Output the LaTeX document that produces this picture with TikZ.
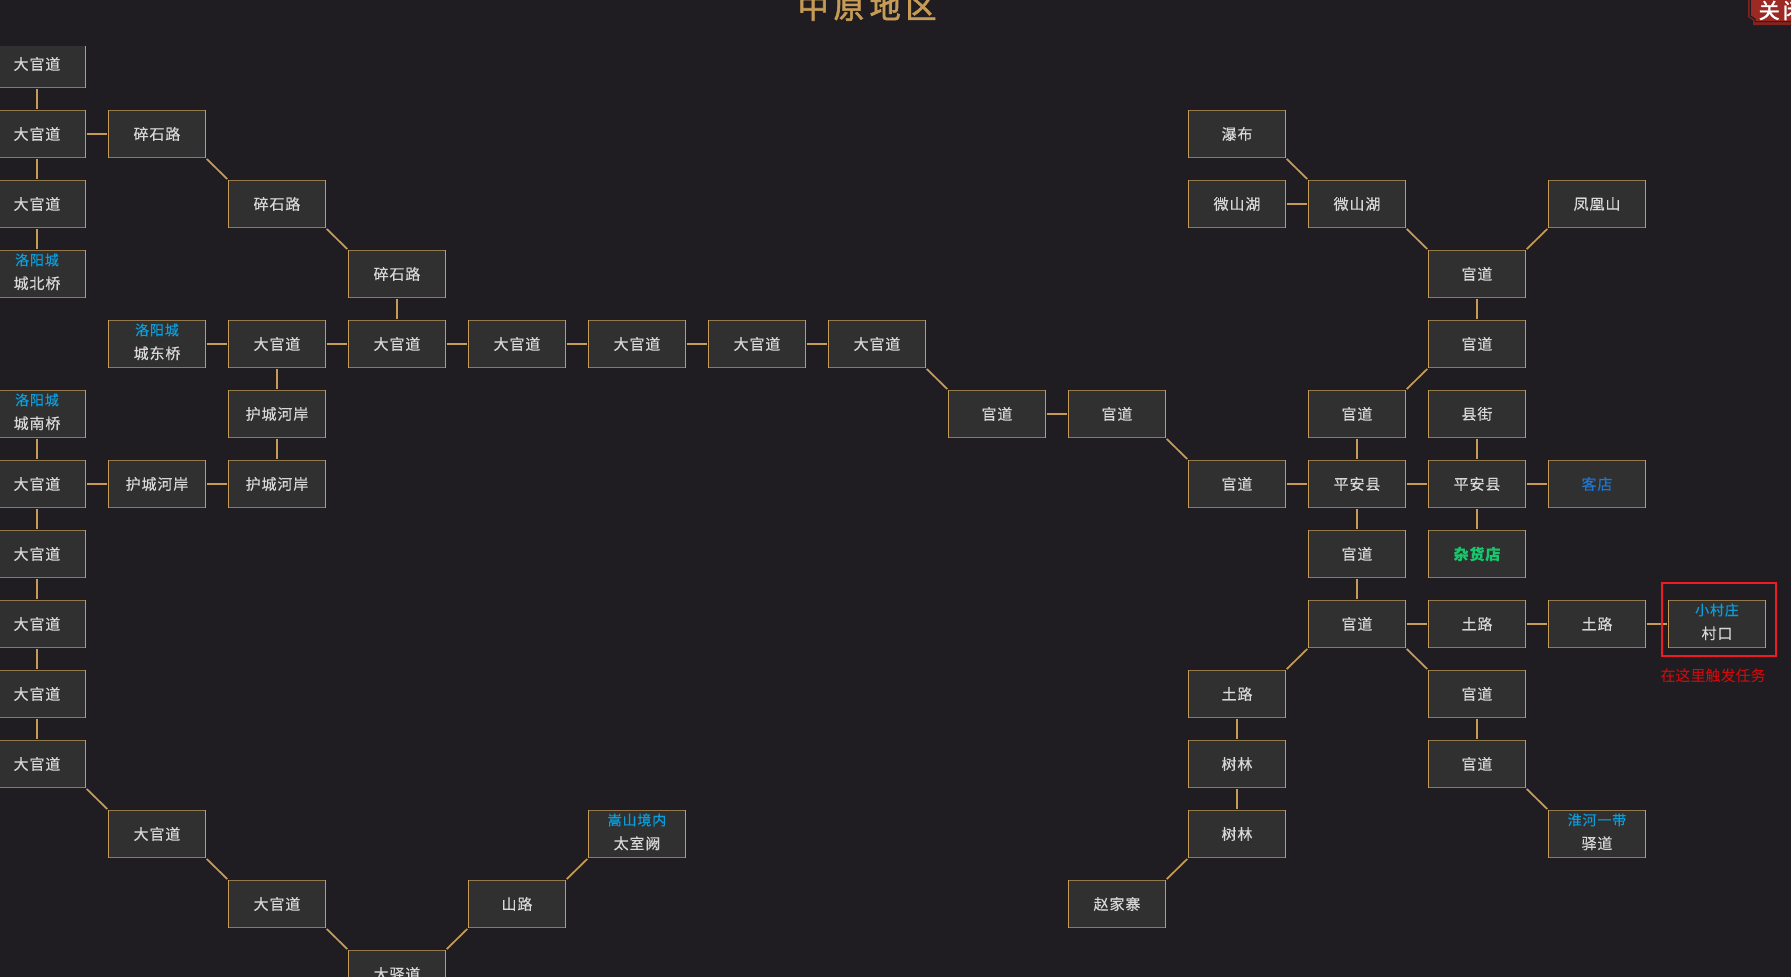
\documentclass[tikz,border=0pt]{standalone}
\usepackage{fontspec}
\newfontfamily\cellfont[LetterSpace=6,FakeBold=0.2]{Noto Sans CJK SC}
\newfontfamily\tagfont[LetterSpace=6,FakeBold=0.2]{Noto Sans CJK SC}
\newfontfamily\notefont{Noto Sans CJK SC}
\newfontfamily\titlefont[LetterSpace=16,FakeBold=2]{Noto Sans CJK SC}
\newfontfamily\closefont[LetterSpace=15,FakeBold=1.5]{Noto Sans CJK SC}
\definecolor{bgdark}{HTML}{201D22}
\definecolor{cellfill}{HTML}{303030}
\definecolor{goldline}{HTML}{C59B55}
\definecolor{rimline}{HTML}{93784C}
\definecolor{celltext}{HTML}{D8D8D8}
\definecolor{tagblue}{HTML}{0A9EDC}
\definecolor{shopblue}{HTML}{1A78D8}
\definecolor{shopgreen}{HTML}{17C76C}
\definecolor{alertred}{HTML}{ED1C24}
\definecolor{notered}{HTML}{DD0A0A}
\definecolor{btnred}{HTML}{9C2A24}
\tikzset{
  x=1pt,y=-1pt,
  cellbox/.style={rectangle,draw=goldline,fill=cellfill,line width=1.2pt,outer sep=0pt,inner sep=0pt,
    minimum width=96.5pt,minimum height=47pt,text=celltext,font=\cellfont\fontsize{15}{16}\selectfont},
  rimtop/.style={draw=rimline,line width=1.5pt},
  rimbot/.style={draw=rimline,line width=1.9pt},
  link/.style={draw=goldline,line width=2pt,shorten >=1.4pt,shorten <=1.4pt},
  slant/.style={draw=goldline,line width=1.7pt,shorten >=2pt,shorten <=2pt},
  toptext/.style={inner sep=0pt,text=tagblue,font=\tagfont\fontsize{14}{16}\selectfont},
  bottext/.style={inner sep=0pt,text=celltext,font=\cellfont\fontsize{15}{16}\selectfont},
}
\newcommand\mapcell[5][celltext]{%
  \node[cellbox,text=#1] (#2) at ({37+120*#3},{64+70*#4}) {#5};
  \draw[rimtop] (#2.north west) -- (#2.north east);
  \draw[rimbot] (#2.south west) -- (#2.south east);
}
\newcommand\mapcelltwo[5]{%
  \node[cellbox] (#1) at ({37+120*#2},{64+70*#3}) {};
  \draw[rimtop] (#1.north west) -- (#1.north east);
  \draw[rimbot] (#1.south west) -- (#1.south east);
  \node[toptext] (#1t) at ([yshift=14pt]#1.center) {#4};
  \node[bottext] (#1b) at ([yshift=-9.3pt]#1.center) {#5};
}
\begin{document}
\begin{tikzpicture}
\useasboundingbox (0,0) rectangle (1791,977);
\fill[bgdark] (0,0) rectangle (1791,977);
\begin{scope}
\clip (0,46) rectangle (1791,977);
\mapcell{a0}{0}{0}{大官道}
\mapcell{a1}{0}{1}{大官道}
\mapcell{a2}{0}{2}{大官道}
\mapcelltwo{a3}{0}{3}{洛阳城}{城北桥}
\mapcelltwo{a5}{0}{5}{洛阳城}{城南桥}
\mapcell{a6}{0}{6}{大官道}
\mapcell{a7}{0}{7}{大官道}
\mapcell{a8}{0}{8}{大官道}
\mapcell{a9}{0}{9}{大官道}
\mapcell{a10}{0}{10}{大官道}
\mapcell{b1}{1}{1}{碎石路}
\mapcelltwo{b4}{1}{4}{洛阳城}{城东桥}
\mapcell{b6}{1}{6}{护城河岸}
\mapcell{b11}{1}{11}{大官道}
\mapcell{c2}{2}{2}{碎石路}
\mapcell{c4}{2}{4}{大官道}
\mapcell{c5}{2}{5}{护城河岸}
\mapcell{c6}{2}{6}{护城河岸}
\mapcell{c12}{2}{12}{大官道}
\mapcell{d3}{3}{3}{碎石路}
\mapcell{d4}{3}{4}{大官道}
\mapcell{d13}{3}{13}{大驿道}
\mapcell{e4}{4}{4}{大官道}
\mapcell{e12}{4}{12}{山路}
\mapcell{f4}{5}{4}{大官道}
\mapcelltwo{f11}{5}{11}{嵩山境内}{太室阙}
\mapcell{g4}{6}{4}{大官道}
\mapcell{h4}{7}{4}{大官道}
\mapcell{i5}{8}{5}{官道}
\mapcell{j5}{9}{5}{官道}
\mapcell{j12}{9}{12}{赵家寨}
\mapcell{k1}{10}{1}{瀑布}
\mapcell{k2}{10}{2}{微山湖}
\mapcell{k6}{10}{6}{官道}
\mapcell{k9}{10}{9}{土路}
\mapcell{k10}{10}{10}{树林}
\mapcell{k11}{10}{11}{树林}
\mapcell{l2}{11}{2}{微山湖}
\mapcell{l5}{11}{5}{官道}
\mapcell{l6}{11}{6}{平安县}
\mapcell{l7}{11}{7}{官道}
\mapcell{l8}{11}{8}{官道}
\mapcell{m3}{12}{3}{官道}
\mapcell{m4}{12}{4}{官道}
\mapcell{m5}{12}{5}{县街}
\mapcell{m6}{12}{6}{平安县}
\mapcell[shopgreen]{m7}{12}{7}{\bfseries 杂货店}
\mapcell{m8}{12}{8}{土路}
\mapcell{m9}{12}{9}{官道}
\mapcell{m10}{12}{10}{官道}
\mapcell{n2}{13}{2}{凤凰山}
\mapcell[shopblue]{n6}{13}{6}{客店}
\mapcell{n8}{13}{8}{土路}
\mapcelltwo{n11}{13}{11}{淮河一带}{驿道}
\mapcelltwo{o8}{14}{8}{小村庄}{村口}
% straight links
\foreach \p/\q in {a0/a1,a1/a2,a2/a3,a1/b1,d3/d4,b4/c4,c4/d4,d4/e4,e4/f4,f4/g4,g4/h4,
  i5/j5,k6/l6,l6/m6,m6/n6,c4/c5,c5/c6,c6/b6,b6/a6,a5/a6,a6/a7,a7/a8,a8/a9,a9/a10,
  k2/l2,m3/m4,l5/l6,m5/m6,l6/l7,m6/m7,l7/l8,l8/m8,m8/n8,n8/o8,k9/k10,k10/k11,m9/m10}
  \draw[link] (\p) -- (\q);
% links falling to the right
\foreach \p/\q in {b1/c2,c2/d3,h4/i5,j5/k6,a10/b11,b11/c12,c12/d13,k1/l2,l2/m3,l8/m9,m10/n11}
  \draw[slant] (\p.south east) -- (\q.north west);
% links rising to the right
\foreach \p/\q in {d13/e12,e12/f11,l5/m4,m3/n2,k9/l8,j12/k11}
  \draw[slant] (\p.north east) -- (\q.south west);
\end{scope}
% marker around the start cell
\node[draw=alertred,line width=2pt,inner sep=0pt,minimum width=113.5pt,minimum height=73.5pt] (marker) at (1719,619.7) {};
\node[text=notered,inner sep=0pt,font=\notefont\fontsize{15}{16}\selectfont] (note) at (1713,676) {在这里触发任务};
% title
\node[text=goldline,inner sep=0pt,anchor=west,font=\titlefont\fontsize{31}{32}\selectfont] (title) at (797.5,6.5) {中原地区};
% close button
\fill[btnred!85!black] (1748,-2) -- (1748,17) -- (1753,20) -- (1753,25) -- (1795,25) -- (1795,-2) -- cycle;
\fill[bgdark] (1749.5,-2) -- (1749.5,16.5) -- (1754.5,19.5) -- (1754.5,22) -- (1795,22) -- (1795,-2) -- cycle;
\fill[btnred] (1751,-2) -- (1751,15.5) -- (1755.5,18.5) -- (1755.5,21) -- (1795,21) -- (1795,-2) -- cycle;
\node[text=white,inner sep=0pt,anchor=west,font=\closefont\fontsize{21}{22}\selectfont] (closebtn) at (1758.5,10.5) {关闭};
\end{tikzpicture}
\end{document}
